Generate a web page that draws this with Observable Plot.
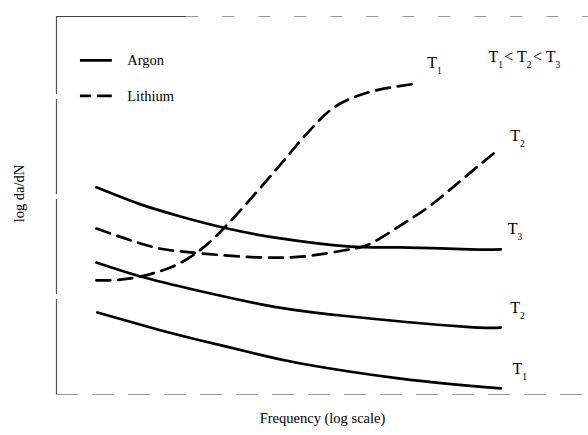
<!DOCTYPE html>
<html>
<head>
<meta charset="utf-8">
<script src="https://cdn.jsdelivr.net/npm/d3@7"></script>
<script src="https://cdn.jsdelivr.net/npm/@observablehq/plot@0.6"></script>
<style>
  html, body { margin: 0; padding: 0; background: #fff; }
  #chart svg { display: block; }
</style>
</head>
<body>
<div id="chart"></div>
<script>
// Arbitrary units: x = log frequency (0..100 across the frame), y = log da/dN (0..100)
const argonT3 = [[7.5,54.8],[15.4,50.5],[23.3,47.1],[32.1,43.9],[42.1,41.3],[54.7,39.2],[64.7,38.9],[77.8,38.4],[83.5,38.4]];
const argonT2 = [[7.5,34.9],[15.8,31.2],[26.5,27.5],[39.7,23.5],[53.4,20.9],[75.9,18.0],[83.5,17.7]];
const argonT1 = [[7.7,21.7],[19.0,17.2],[27.1,14.3],[36.5,11.1],[45.9,8.2],[64.7,4.2],[83.5,1.6]];
const lithiumT1 = [[7.5,30.2],[13.9,30.7],[21.4,33.6],[26.1,37.3],[31.4,43.9],[40.8,58.7],[45.9,67.2],[49.6,72.8],[52.4,76.2],[55.3,78.3],[58.5,79.9],[62.8,81.2],[67.9,82.3]];
const lithiumT2 = [[7.5,43.9],[17.1,39.4],[25.2,37.6],[42.1,36.2],[53.9,38.1],[59.0,39.9],[65.2,45.2],[70.3,50.0],[76.6,57.3],[82.9,64.6]];

const curveLabels = [
  {x: 69.7, y: 87.6, text: "T_1"},
  {x: 85.3, y: 68.5, text: "T_2"},
  {x: 84.8, y: 43.9, text: "T_3"},
  {x: 85.3, y: 22.8, text: "T_2"},
  {x: 85.7, y: 6.9,  text: "T_1"}
];
const relationLabel = [{x: 81.2, y: 89.2, text: "T_1< T_2< T_3"}];
const legendSolid = [{name: "Argon", x1: 4.5, x2: 10.5, y: 88.4}];
const legendDashed = [
  {name: "Lithium", x1: 4.5, x2: 6.6, y: 79.0},
  {name: "Lithium", x1: 7.7, x2: 10.5, y: 79.0}
];
const legendNames = [{name: "Argon", y: 88.4}, {name: "Lithium", y: 79.0}];
const xLabel = "Frequency (log scale)";
const yLabel = "log da/dN";

const toObj = a => a.map(([x, y]) => ({x, y}));
const font = "'Liberation Serif', 'DejaVu Serif', serif";
const curveW = 2.7;
const dash = "14,8";
const crv = "natural";

const plot = Plot.plot({
  width: 588,
  height: 435,
  marginLeft: 56,
  marginRight: 0,
  marginTop: 16,
  marginBottom: 41,
  x: {domain: [0, 100], axis: null},
  y: {domain: [0, 100], axis: null},
  style: {fontFamily: font, background: "#fff", color: "#000"},
  marks: [
    // frame (faint, broken as in the scan)
    Plot.ruleX([0], {y1: 0, y2: 100, stroke: "#555", strokeWidth: 1.2, strokeDasharray: "95,5"}),
    Plot.ruleY([100], {x1: 0, x2: 24.5, stroke: "#444", strokeWidth: 1}),
    Plot.ruleY([100], {x1: 24.5, x2: 100, stroke: "#999", strokeWidth: 1, strokeDasharray: "12,24"}),
    Plot.ruleY([0], {x1: 0, x2: 100, stroke: "#999", strokeWidth: 1, strokeDasharray: "22,14"}),
    // curves
    Plot.line(toObj(argonT3), {x: "x", y: "y", curve: crv, stroke: "#000", strokeWidth: curveW}),
    Plot.line(toObj(argonT2), {x: "x", y: "y", curve: crv, stroke: "#000", strokeWidth: curveW}),
    Plot.line(toObj(argonT1), {x: "x", y: "y", curve: crv, stroke: "#000", strokeWidth: curveW}),
    Plot.line(toObj(lithiumT1), {x: "x", y: "y", curve: crv, stroke: "#000", strokeWidth: curveW, strokeDasharray: dash}),
    Plot.line(toObj(lithiumT2), {x: "x", y: "y", curve: crv, stroke: "#000", strokeWidth: curveW, strokeDasharray: dash}),
    // legend
    Plot.ruleY(legendSolid, {x1: "x1", x2: "x2", y: "y", stroke: "#000", strokeWidth: curveW}),
    Plot.ruleY(legendDashed, {x1: "x1", x2: "x2", y: "y", stroke: "#000", strokeWidth: curveW}),
    Plot.text(legendNames, {x: 13.3, y: "y", text: "name", textAnchor: "start", fontSize: 14.5, fill: "#000"}),
    // curve labels
    Plot.text(curveLabels, {x: "x", y: "y", text: "text", textAnchor: "start", fontSize: 16, fill: "#000", className: "sublabel"}),
    Plot.text(relationLabel, {x: "x", y: "y", text: "text", textAnchor: "start", fontSize: 16, fill: "#000", className: "sublabel"}),
    // axis titles
    Plot.text([xLabel], {frameAnchor: "bottom", textAnchor: "middle", dy: 28, text: d => d, fontSize: 14.5, fill: "#000"}),
    Plot.text([yLabel], {frameAnchor: "left", textAnchor: "middle", dx: -37, dy: -12, rotate: -90, text: d => d, fontSize: 14.5, fill: "#000"})
  ]
});

// turn "T_1" into T with a subscript
d3.select(plot).selectAll(".sublabel text").each(function() {
  const s = this.textContent;
  const el = d3.select(this);
  el.text(null);
  const parts = s.split(/_(\d)/);
  parts.forEach((p, i) => {
    if (p === "") return;
    if (i % 2 === 1) {
      el.append("tspan").attr("dy", 6).attr("font-size", 9.5).text(p);
      el.append("tspan").attr("dy", -6).text("\u200A");
    } else {
      el.append("tspan").text(p);
    }
  });
});

document.getElementById("chart").appendChild(plot);
</script>
</body>
</html>
